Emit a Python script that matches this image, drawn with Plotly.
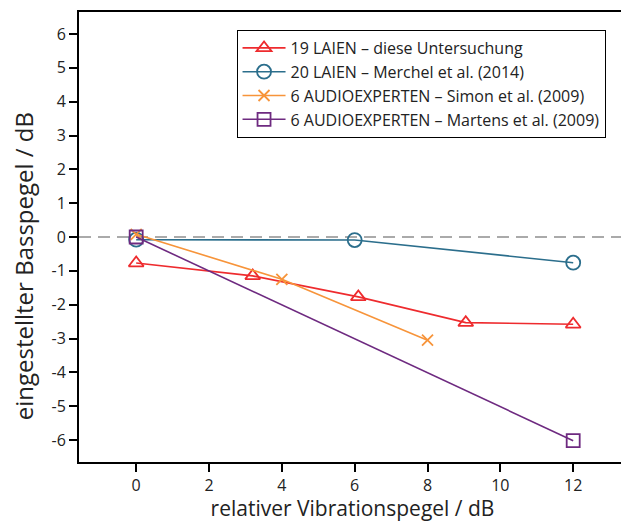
import plotly.graph_objects as go

# Data
laien_x = [0, 3.2, 6.1, 9.05, 12]
laien_y = [-0.77, -1.15, -1.77, -2.53, -2.58]
merchel_x = [0, 6, 12]
merchel_y = [-0.08, -0.09, -0.76]
simon_x = [0, 4, 8]
simon_y = [0.08, -1.25, -3.05]
martens_x = [0, 12]
martens_y = [0, -6.02]

names = ["19 LAIEN – diese Untersuchung",
         "20 LAIEN – Merchel et al. (2014)",
         "6 AUDIOEXPERTEN – Simon et al. (2009)",
         "6 AUDIOEXPERTEN – Martens et al. (2009)"]

x_ticks = [0, 2, 4, 6, 8, 10, 12]
y_ticks = [-6, -5, -4, -3, -2, -1, 0, 1, 2, 3, 4, 5, 6]

x_title = "relativer Vibrationspegel / dB"
y_title = "eingestellter Basspegel / dB"

FONT = "Open Sans"

fig = go.Figure()
series = [
    (laien_x, laien_y, "#ee2b2e", "triangle-up-open", 13),
    (merchel_x, merchel_y, "#2b6e8c", "circle-open", 14),
    (simon_x, simon_y, "#f7943a", "x-thin-open", 11),
    (martens_x, martens_y, "#6e2a80", "square-open", 13),
]
for (xs, ys, col, sym, sz), nm in zip(series, names):
    fig.add_trace(go.Scatter(
        x=xs, y=ys, name=nm, mode="lines+markers",
        line=dict(color=col, width=1.6),
        marker=dict(symbol=sym, size=sz, color=col, line=dict(color=col, width=1.8)),
    ))

fig.add_shape(type="line", xref="paper", x0=0, x1=1, yref="y", y0=0, y1=0,
              line=dict(color="#aaaaaa", width=2, dash="12px,7px"), layer="below")

fig.add_annotation(text=y_title, textangle=-90, xref="paper", yref="paper",
                   x=-0.1, y=0.4356, xanchor="center", yanchor="middle",
                   showarrow=False, font=dict(size=24, family=FONT, color="#222222"))

fig.update_layout(
    width=621, height=514,
    margin=dict(l=71, r=1, t=4, b=60),
    paper_bgcolor="white", plot_bgcolor="white",
    font=dict(family=FONT, color="#222222", size=16),
    showlegend=True,
    legend=dict(x=0.288, y=0.96, xanchor="left", yanchor="top",
                bordercolor="black", borderwidth=1, bgcolor="white",
                font=dict(family=FONT, size=16, color="#222222"),
                itemwidth=43, tracegroupgap=0),
)
fig.update_xaxes(range=[-1.57, 13.45], tickvals=x_ticks, ticktext=[str(v) for v in x_ticks],
                 showgrid=False, zeroline=False, showline=True, linecolor="black", linewidth=2,
                 mirror=True, ticks="outside", ticklen=8, tickwidth=2, tickcolor="black",
                 tickfont=dict(size=16), title=dict(text=x_title,
                 font=dict(size=21), standoff=4))
fig.update_yaxes(range=[-6.65, 6.65], tickvals=y_ticks, ticktext=[str(v) for v in y_ticks],
                 showgrid=False, zeroline=False, showline=True, linecolor="black", linewidth=2,
                 mirror=True, ticks="outside", ticklen=8, tickwidth=2, tickcolor="black",
                 tickfont=dict(size=16))

fig.write_html("out.html")
